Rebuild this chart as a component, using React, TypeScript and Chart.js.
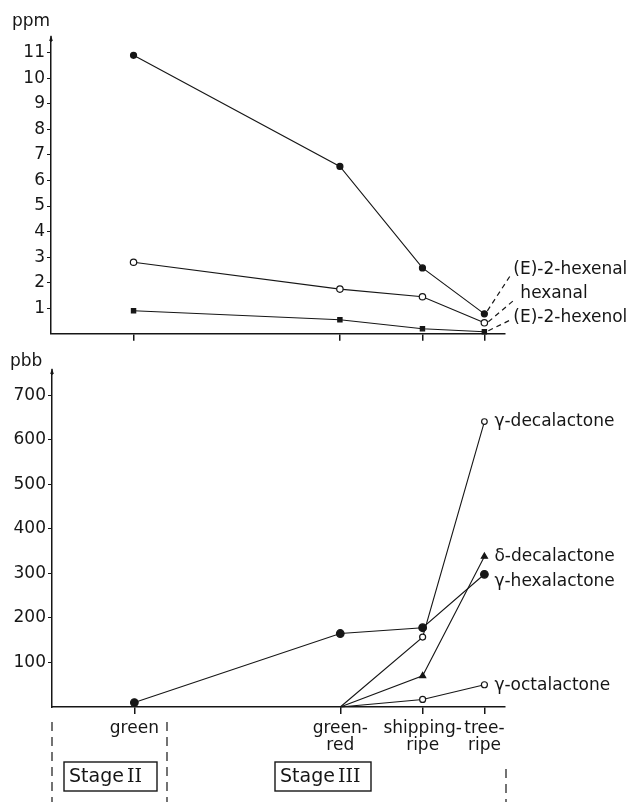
import React, { useEffect, useRef } from "react";
import { Chart, registerables } from "chart.js";
Chart.register(...registerables);

// ---------- data ----------
const stageLabels: string[][] = [["green"], ["green-", "red"], ["shipping-", "ripe"], ["tree-", "ripe"]];
const stagePos = [4, 14, 18, 21];

const ppmTicks = [1, 2, 3, 4, 5, 6, 7, 8, 9, 10, 11];
const hexenalNames = ["(E)-2-hexenal", "hexanal", "(E)-2-hexenol"];
const hexenal = [10.9, 6.55, 2.58, 0.78];
const hexanal = [2.8, 1.75, 1.45, 0.43];
const hexenol = [0.9, 0.55, 0.2, 0.08];

const ppbTicks = [100, 200, 300, 400, 500, 600, 700];
const lactoneNames = ["γ-hexalactone", "γ-decalactone", "δ-decalactone", "γ-octalactone"];
const gHexalactone = [10, 165, 178, 298];
const gDecalactone = [null, 0, 157, 641];
const dDecalactone = [null, 0, 70, 338];
const gOctalactone = [null, 0, 17, 50];

const stageNames = ["Stage", "II", "III"];
const unitTop = "ppm";
const unitBottom = "pbb";

// ---------- style ----------
const INK = "#161616";
const FONT = "'DejaVu Sans', sans-serif";
const SERIF = "'DejaVu Serif', serif";

function pts(vals: (number | null)[]) {
  return stagePos.map((x, i) => ({ x, y: vals[i] }));
}

function yScale(ticksArr: number[], max: number, width: number) {
  return {
    type: "linear",
    min: 0,
    max,
    afterBuildTicks: (s: any) => {
      s.ticks = ticksArr.map((v) => ({ value: v }));
    },
    afterFit: (s: any) => {
      s.width = width;
    },
    ticks: {
      color: INK,
      font: { family: FONT, size: 17 },
      padding: 2,
      callback: (v: any) => String(v),
    },
    grid: { display: true, drawOnChartArea: false, drawTicks: true, tickLength: 4, color: INK, lineWidth: 1 },
    border: { display: true, color: INK, width: 1.5 },
  };
}

function xScale(height: number, showLabels: boolean) {
  return {
    type: "linear",
    min: 0,
    max: 22,
    afterBuildTicks: (s: any) => {
      s.ticks = stagePos.map((v) => ({ value: v }));
    },
    afterFit: (s: any) => {
      s.height = height;
    },
    ticks: {
      autoSkip: false,
      maxRotation: 0,
      minRotation: 0,
      color: INK,
      font: { family: FONT, size: 17, lineHeight: 1.0 },
      padding: 6,
      callback: (_v: any, i: number) => (showLabels ? stageLabels[i] : ""),
    },
    grid: { display: true, drawOnChartArea: false, drawTicks: true, tickLength: 7, color: INK, lineWidth: 1.5 },
    border: { display: true, color: INK, width: 1.5 },
  };
}

function arrow(ctx: CanvasRenderingContext2D, x: number, top: number) {
  ctx.save();
  ctx.lineWidth = 1.3;
  ctx.beginPath();
  ctx.moveTo(x, top + 6);
  ctx.lineTo(x, top);
  ctx.stroke();
  ctx.beginPath();
  ctx.moveTo(x - 1.8, top + 5);
  ctx.lineTo(x, top - 1);
  ctx.lineTo(x + 1.8, top + 5);
  ctx.closePath();
  ctx.fill();
  ctx.restore();
}

function seg(ctx: CanvasRenderingContext2D, x1: number, y1: number, x2: number, y2: number) {
  ctx.beginPath();
  ctx.moveTo(x1, y1);
  ctx.lineTo(x2, y2);
  ctx.stroke();
}

const topDecor = {
  id: "topDecor",
  afterDraw(chart: any) {
    const { ctx, chartArea, scales } = chart;
    const x = scales.x;
    const y = scales.y;
    ctx.save();
    ctx.fillStyle = INK;
    ctx.strokeStyle = INK;
    ctx.font = `17px ${FONT}`;
    ctx.textBaseline = "middle";
    ctx.textAlign = "left";
    ctx.fillText(unitTop, 12, 22);
    arrow(ctx, chartArea.left, chartArea.top - 4);

    const tx = x.getPixelForValue(stagePos[3]);
    const ys = [hexenal, hexanal, hexenol].map((a) => y.getPixelForValue(a[3] as number));
    ctx.lineWidth = 1.2;
    ctx.setLineDash([5, 4]);
    seg(ctx, tx + 3, ys[0] - 3, tx + 27, 274);
    seg(ctx, tx + 4, ys[1] - 1, tx + 31, 299);
    seg(ctx, tx + 4, ys[2] - 1, tx + 26, 320);
    ctx.setLineDash([]);
    ctx.font = `17px ${FONT}`;
    ctx.fillText(hexenalNames[0], tx + 29, 270);
    ctx.fillText(hexenalNames[1], tx + 36, 294);
    ctx.fillText(hexenalNames[2], tx + 29, 318);
    ctx.restore();
  },
};

const bottomDecor = {
  id: "bottomDecor",
  afterDraw(chart: any) {
    const { ctx, chartArea, scales } = chart;
    const x = scales.x;
    const y = scales.y;
    ctx.save();
    ctx.fillStyle = INK;
    ctx.strokeStyle = INK;
    ctx.font = `17px ${FONT}`;
    ctx.textBaseline = "middle";
    ctx.textAlign = "left";
    ctx.fillText(unitBottom, 10, 16);
    arrow(ctx, chartArea.left, chartArea.top - 4);

    const tx = x.getPixelForValue(stagePos[3]);
    const series = [gHexalactone, gDecalactone, dDecalactone, gOctalactone];
    const offs = [7, 0, 0, 1];
    series.forEach((s, i) => {
      const py = y.getPixelForValue(s[3] as number);
      ctx.fillText(lactoneNames[i], tx + 10, py + offs[i]);
    });

    // dashed stage separators
    ctx.lineWidth = 1.2;
    ctx.setLineDash([9, 6]);
    const base = chartArea.bottom;
    seg(ctx, chartArea.left, base + 15, chartArea.left, 460);
    seg(ctx, 167, base + 15, 167, 460);
    seg(ctx, 506, base + 62, 506, 460);
    ctx.setLineDash([]);

    // stage boxes
    const boxY = base + 55;
    const boxH = 29;
    ctx.lineWidth = 1.4;
    ctx.strokeRect(64, boxY, 93, boxH);
    ctx.strokeRect(275, boxY, 96, boxH);
    ctx.textBaseline = "middle";
    ctx.font = `19px ${FONT}`;
    const w1 = ctx.measureText(stageNames[0]).width;
    ctx.fillText(stageNames[0], 69, boxY + boxH / 2 + 1);
    ctx.fillText(stageNames[0], 280, boxY + boxH / 2 + 1);
    ctx.font = `19px ${SERIF}`;
    ctx.fillText(stageNames[1], 69 + w1 + 3, boxY + boxH / 2 + 1);
    ctx.fillText(stageNames[2], 280 + w1 + 3, boxY + boxH / 2 + 1);
    ctx.restore();
  },
};

function lineDs(vals: (number | null)[], style: string, radius: number[] | number, filled: boolean) {
  return {
    data: pts(vals),
    borderColor: INK,
    borderWidth: 1.1,
    pointStyle: style,
    pointRadius: radius,
    pointBorderWidth: 1.2,
    pointBackgroundColor: filled ? INK : "#ffffff",
    pointBorderColor: INK,
    tension: 0,
    clip: false,
    spanGaps: false,
  };
}

export default function App() {
  const topRef = useRef<HTMLCanvasElement>(null);
  const botRef = useRef<HTMLCanvasElement>(null);

  useEffect(() => {
    const common = {
      responsive: false,
      animation: false,
      devicePixelRatio: 1,
      plugins: { legend: { display: false }, tooltip: { enabled: false } },
    };
    const top = new Chart(topRef.current as HTMLCanvasElement, {
      type: "line",
      data: {
        datasets: [
          lineDs(hexenal, "circle", 3, true),
          lineDs(hexanal, "circle", 3.2, false),
          lineDs(hexenol, "rect", 3, true),
        ],
      } as any,
      options: {
        ...common,
        layout: { padding: { top: 40, right: 634 - 505, left: 0, bottom: 0 } },
        scales: {
          x: xScale(10, false),
          y: yScale(ppmTicks, 11.5, 51),
        },
      } as any,
      plugins: [topDecor],
    });
    const bot = new Chart(botRef.current as HTMLCanvasElement, {
      type: "line",
      data: {
        datasets: [
          lineDs(gHexalactone, "circle", 3.8, true),
          lineDs(gDecalactone, "circle", [0, 0, 3, 2.8], false),
          lineDs(dDecalactone, "triangle", [0, 0, 3.5, 3.5], true),
          lineDs(gOctalactone, "circle", [0, 0, 3, 3], false),
        ],
      } as any,
      options: {
        ...common,
        layout: { padding: { top: 27, right: 634 - 505, left: 0, bottom: 0 } },
        scales: {
          x: xScale(95, true),
          y: yScale(ppbTicks, 750, 52),
        },
      } as any,
      plugins: [bottomDecor],
    });
    return () => {
      top.destroy();
      bot.destroy();
    };
  }, []);

  return (
    <div style={{ position: "absolute", left: 0, top: 0, width: 634, height: 802, background: "#ffffff" }}>
      <canvas ref={topRef} width={634} height={346} style={{ position: "absolute", left: 0, top: 0 }} />
      <canvas ref={botRef} width={634} height={456} style={{ position: "absolute", left: 0, top: 346 }} />
    </div>
  );
}
